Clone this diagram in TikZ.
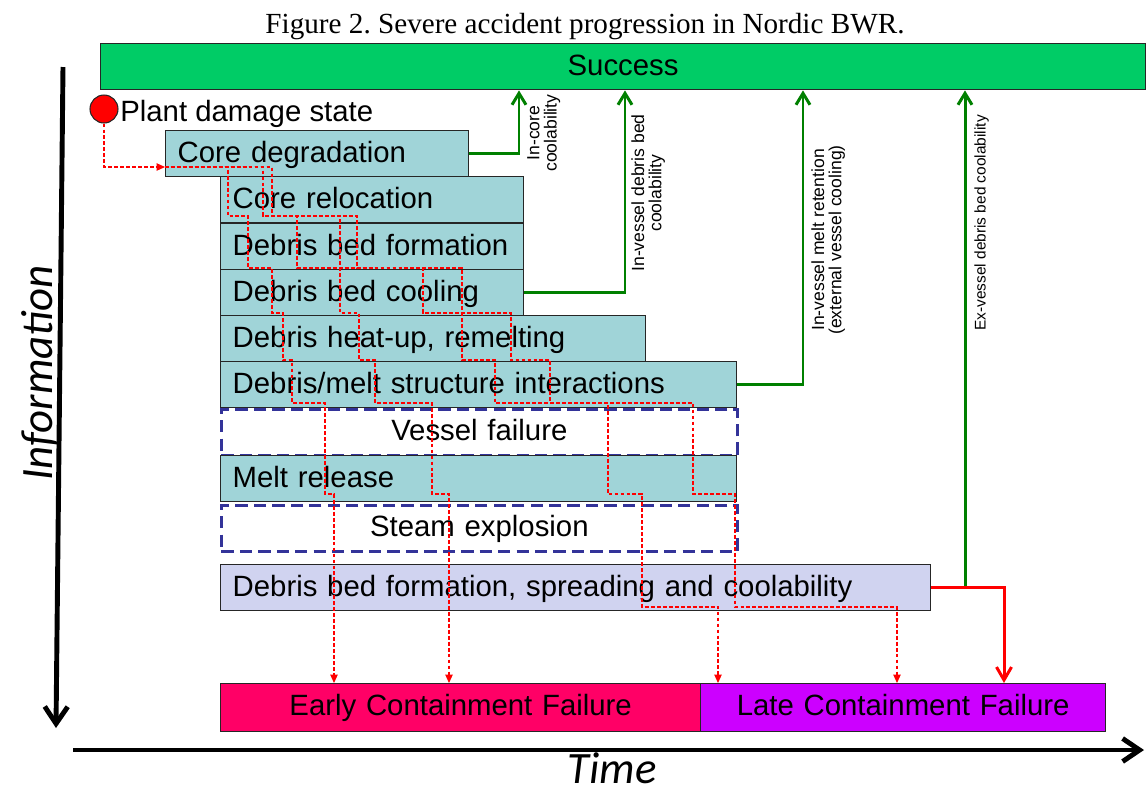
\documentclass[tikz,border=0pt]{standalone}
\usepackage{fontspec}
\setmainfont{Liberation Serif}
\newfontfamily\arialfont{Liberation Sans}
\newfontfamily\calibrifont{Carlito}
\usepackage{xcolor}
\definecolor{stageteal}{HTML}{A0D4D8}
\definecolor{spreadblue}{HTML}{D0D3F0}
\definecolor{successgreen}{HTML}{00CC66}
\definecolor{earlyred}{HTML}{FF0066}
\definecolor{latepurple}{HTML}{CC00FF}
\definecolor{okgreen}{HTML}{008000}
\definecolor{navydash}{HTML}{333399}
\definecolor{edgegray}{HTML}{262626}
\usepackage{tikz}
\usetikzlibrary{arrows.meta}
\frenchspacing

\begin{document}
\begin{tikzpicture}[
        x=0.02cm, y=-0.02cm,
        stage/.style={draw=edgegray, line width=0.8pt, fill=stageteal, anchor=north west, minimum height=0.92cm, inner xsep=0.24cm, inner ysep=0pt, text height=12.5pt, text depth=3pt, align=left, font=\arialfont\fontsize{16.7}{19}\selectfont},
        openstage/.style={stage, draw=navydash, fill=none, line width=1.6pt, dash pattern=on 7pt off 3.5pt, align=center},
        outcome/.style={stage, minimum height=0.95cm, align=center},
        tag/.style={rotate=90, anchor=north, inner sep=0pt, align=center, font=\arialfont\fontsize{10}{9.8}\selectfont},
        okpath/.style={draw=okgreen, line width=1.7pt, -{Straight Barb[length=2.3mm, width=2.8mm]}},
        failpath/.style={draw=red, line width=1.7pt, -{Straight Barb[length=2.6mm, width=3mm]}},
        trace/.style={draw=red, line width=0.6pt, dash pattern=on 2.2pt off 1.2pt, -{Triangle[length=1.7mm, width=1.5mm]}},
        axis/.style={line width=2.8pt, -{Straight Barb[length=3.4mm, width=4.6mm]}}
    ]
    \useasboundingbox (0,0) rectangle (1147,796);

    % Title and end state
    \node[anchor=base, inner sep=0pt, font=\fontsize{16.6}{20}\selectfont] (title) at (585,33) {Figure 2. Severe accident progression in Nordic BWR.};
    \node[stage, fill=successgreen, text width=20.42cm, align=center] (success) at (100,43) {Success};

    % Plant damage state
    \node[circle, draw=edgegray, line width=0.6pt, fill=red, minimum size=0.56cm, inner sep=0pt] (pds) at (104,109) {};
    \node[anchor=base west, inner sep=0pt, font=\arialfont\fontsize{16.7}{19}\selectfont] (pdslabel) at (120,121) {Plant damage state};

    % In-vessel phases
    \node[stage, text width=5.58cm] (cd) at (165,130) {Core degradation};
    \node[stage, text width=5.58cm] (cr) at (220,176) {Core relocation};
    \node[stage, text width=5.58cm] (dbf) at (220,223) {Debris bed formation};
    \node[stage, text width=5.58cm] (dbc) at (220,269) {Debris bed cooling};
    \node[stage, text width=8.02cm] (hu) at (220,315) {Debris heat-up, remelting};
    \node[stage, text width=9.84cm] (int) at (220,361) {Debris/melt structure interactions};
    \node[openstage, text width=9.84cm] (vf) at (220,408) {Vessel failure};
    \node[stage, text width=9.84cm] (mr) at (220,455) {Melt release};
    \node[openstage, text width=9.84cm] (se) at (220,504) {Steam explosion};

    % Ex-vessel phase
    \node[stage, fill=spreadblue, text width=13.72cm] (spr) at (220,564) {Debris bed formation, spreading and coolability};

    % Containment failure modes
    \node[outcome, fill=earlyred, text width=9.12cm] (early) at (220,683) {Early Containment Failure};
    \node[outcome, fill=latepurple, text width=7.62cm] (late) at (700,683) {Late Containment Failure};

    % Paths to success
    \draw[okpath] (cd.east) -| (success.south -| 519,0);
    \draw[okpath] (dbc.east) -| (success.south -| 625,0);
    \draw[okpath] (int.east) -| (success.south -| 803,0);
    \coordinate (split) at (spr.east -| 965,0);
    \draw[okpath] (split) -- (success.south -| 965,0);
    \draw[failpath] (spr.east) -| (late.north -| 1004,0);

    \node[tag] (incore) at (527,133) {In-core\\coolability};
    \node[tag] (invessel) at (631,193) {In-vessel debris bed\\coolability};
    \node[tag] (ivr) at (811,240) {In-vessel melt retention\\(external vessel cooling)};
    \node[tag, font=\arialfont\fontsize{8.8}{9.8}\selectfont] (exvessel) at (974,223) {Ex-vessel debris bed coolability};

    % Accident progression traces
    \coordinate (entry) at (cd.west |- 0,167);
    \draw[trace] (pds.south) |- (entry);
    \draw[trace] (entry) -| (228,216) -| (248,268) -| (272,313) -| (283,360) -| (292,403) -| (325,494) -| (early.north -| 334,0);
    \draw[trace] (entry) -| (263,216) -| (297,268) -| (340,313) -| (359,360) -| (375,403) -| (432,494) -| (early.north -| 449,0);
    \draw[trace] (entry) -| (272,216) -| (340,268) -| (423,313) -| (511,360) -| (550,403) -| (693,494) -| (735,607) -| (late.north -| 897,0);
    \draw[trace] (entry) -| (272,216) -| (357,268) -| (462,360) -| (495,403) -| (608,494) -| (642,607) -| (late.north -| 718,0);

    % Axes
    \coordinate (infotop) at (63,67);
    \coordinate (infoend) at (56,728);
    \coordinate (timestart) at (73,750);
    \coordinate (timeend) at (1144,750);
    \draw[axis] (infotop) -- (infoend);
    \draw[axis] (timestart) -- (timeend);
    \node[rotate=90, anchor=base, inner sep=0pt, font=\calibrifont\itshape\fontsize{25.5}{30}\selectfont] (infolabel) at (52,373) {Information};
    \node[anchor=base, inner sep=0pt, font=\calibrifont\itshape\fontsize{25.5}{30}\selectfont] (timelabel) at (612,783) {Time};
\end{tikzpicture}
\end{document}
